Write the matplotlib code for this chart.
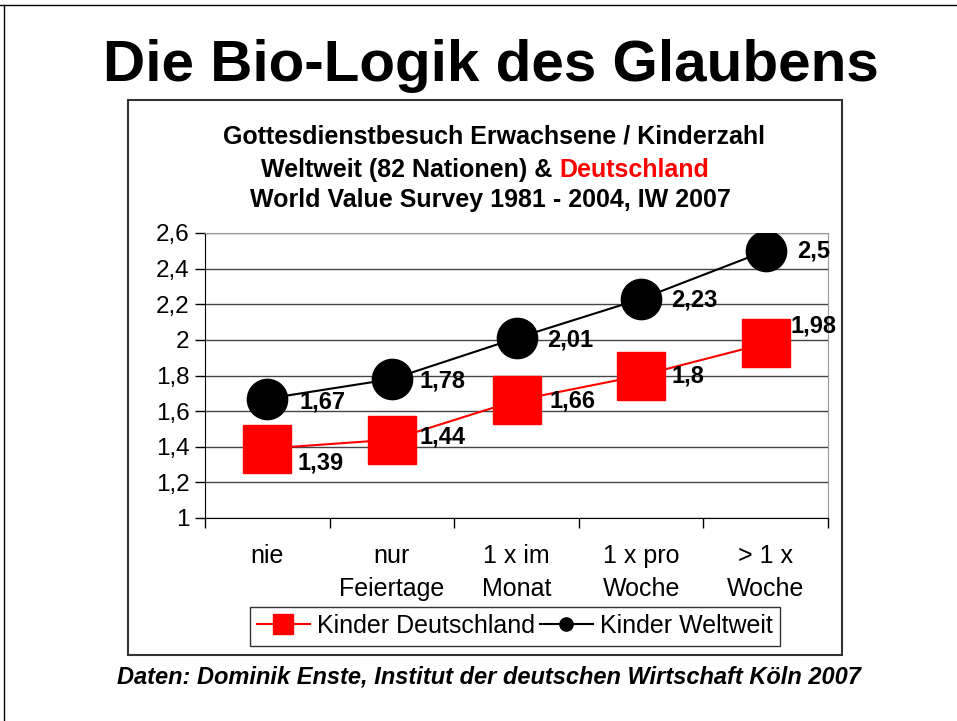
import matplotlib
matplotlib.use("Agg")
import matplotlib.pyplot as plt
from matplotlib.patches import Rectangle
from matplotlib.lines import Line2D

categories = ["nie", "nur\nFeiertage", "1 x im\nMonat", "1 x pro\nWoche", "> 1 x\nWoche"]
kinder_deutschland = [1.39, 1.44, 1.66, 1.80, 1.98]
kinder_weltweit = [1.67, 1.78, 2.01, 2.23, 2.50]
y_ticks = [1.0, 1.2, 1.4, 1.6, 1.8, 2.0, 2.2, 2.4, 2.6]

SANS = ["Liberation Sans", "DejaVu Sans"]
plt.rcParams['font.family'] = SANS

W, H = 957, 721
fig = plt.figure(figsize=(W / 100, H / 100), dpi=100)
fig.patch.set_facecolor("white")

def fx(px):
    return px / W

def fy(py):
    return 1 - py / H

# slide border lines
fig.add_artist(Line2D([0, 1], [fy(5), fy(5)], transform=fig.transFigure, color="black", lw=1))
fig.add_artist(Line2D([fx(4), fx(4)], [0, fy(5)], transform=fig.transFigure, color="black", lw=1))

# chart box
fig.add_artist(Rectangle((fx(128), fy(655)), fx(842) - fx(128), fy(100) - fy(655),
                         transform=fig.transFigure, fill=False, edgecolor="#333333", lw=1.5))

# main title
fig.text(fx(491), fy(66), "Die Bio-Logik des Glaubens", ha="center", va="center",
         fontsize=42, fontweight="bold")

# chart title
fig.text(fx(494), fy(136), "Gottesdienstbesuch Erwachsene / Kinderzahl", ha="center", va="center",
         fontsize=18, fontweight="bold")
fig.text(fx(490), fy(200), "World Value Survey 1981 - 2004, IW 2007", ha="center", va="center",
         fontsize=18, fontweight="bold")
t1 = fig.text(0, fy(170), "Weltweit (82 Nationen) & ", ha="left", va="center",
              fontsize=18, fontweight="bold", color="black")
t2 = fig.text(0, fy(170), "Deutschland", ha="left", va="center",
              fontsize=18, fontweight="bold", color="red")
fig.canvas.draw()
r = fig.canvas.get_renderer()
w1 = t1.get_window_extent(r).width
w2 = t2.get_window_extent(r).width
start = 485 - (w1 + w2) / 2
t1.set_x(fx(start))
t2.set_x(fx(start + w1))

# footer
fig.text(fx(489), fy(677), "Daten: Dominik Enste, Institut der deutschen Wirtschaft Köln 2007",
         ha="center", va="center", fontsize=17, fontweight="bold", fontstyle="italic")

ax = fig.add_axes([fx(205), fy(518), fx(828) - fx(205), fy(233) - fy(518)])
x = list(range(len(categories)))
ax.set_xlim(-0.5, len(categories) - 0.5)
ax.set_ylim(1.0, 2.6)
ax.set_yticks(y_ticks)
ax.set_yticklabels([("%g" % v).replace(".", ",") for v in y_ticks], fontsize=17.5)
ax.set_xticks(x)
ax.set_xticklabels(categories, fontsize=18, linespacing=1.45)
ax.set_xticks([i - 0.5 for i in range(len(categories) + 1)], minor=True)
ax.tick_params(axis="x", which="major", length=0, pad=19)
ax.tick_params(axis="x", which="minor", length=7, direction="out", width=1)
ax.tick_params(axis="y", length=7, direction="out", width=1, pad=4)
ax.grid(axis="y", color="#444444", lw=1)
ax.set_axisbelow(True)
for s in ["top", "right"]:
    ax.spines[s].set_color("#999999")
for s in ["left", "bottom"]:
    ax.spines[s].set_color("black")

ax.plot(x, kinder_deutschland, color="red", lw=1.5, marker="s", markersize=34,
        markerfacecolor="red", markeredgecolor="red", label="Kinder Deutschland", zorder=3)
ax.plot(x, kinder_weltweit, color="black", lw=1.5, marker="o", markersize=29,
        markerfacecolor="black", markeredgecolor="black", label="Kinder Weltweit", zorder=3)

de_offsets = [(30, -14), (28, 3), (33, -1), (30, 0), (25, 17)]
ww_offsets = [(32, -3), (28, -2), (31, -2), (30, -1), (31, 0)]
for xi, v, off in zip(x, kinder_deutschland, de_offsets):
    ax.annotate(("%g" % v).replace(".", ","), (xi, v), xytext=off, textcoords="offset pixels",
                ha="left", va="center", fontsize=17, fontweight="bold", zorder=4,
                annotation_clip=False)
for xi, v, off in zip(x, kinder_weltweit, ww_offsets):
    ax.annotate(("%g" % v).replace(".", ","), (xi, v), xytext=off, textcoords="offset pixels",
                ha="left", va="center", fontsize=17, fontweight="bold", zorder=4,
                annotation_clip=False)

h1 = Line2D([], [], color="red", lw=1.5, marker="s", markersize=15, markerfacecolor="red", markeredgecolor="red")
h2 = Line2D([], [], color="black", lw=1.5, marker="o", markersize=9.5, markerfacecolor="black", markeredgecolor="black")
leg = fig.legend([h1, h2], ["Kinder Deutschland", "Kinder Weltweit"], loc="center",
                 bbox_to_anchor=(fx(515), fy(626)), ncol=2, fontsize=18, frameon=True,
                 fancybox=False, edgecolor="black", handlelength=2.1, handletextpad=0.3,
                 columnspacing=0.2, borderpad=0.3, borderaxespad=0)
leg.get_frame().set_linewidth(1)

fig.savefig("out.png", dpi=100)
